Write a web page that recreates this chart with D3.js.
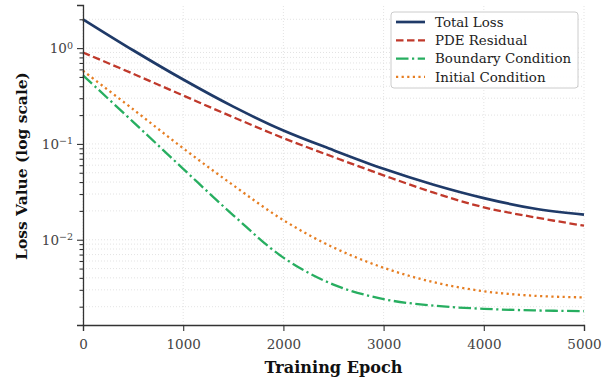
<!DOCTYPE html>
<html>
<head>
<meta charset="utf-8">
<script src="https://cdn.jsdelivr.net/npm/d3@7"></script>
<style>
  body { margin: 0; background: #fff; }
  svg { display: block; font-family: "DejaVu Serif", serif; }
</style>
</head>
<body>
<div id="chart"></div>
<script>
// values
const epochs = [0, 500, 1000, 1500, 2000, 2500, 3000, 3500, 4000, 4500, 5000];
const totalLoss = [2.0, 0.95, 0.47, 0.245, 0.138, 0.086, 0.055, 0.0375, 0.0272, 0.0212, 0.0183];
const pdeResidual = [0.9, 0.54, 0.32, 0.19, 0.115, 0.073, 0.047, 0.031, 0.0218, 0.0172, 0.014];
const boundaryCond = [0.52, 0.17, 0.055, 0.018, 0.0065, 0.0034, 0.0024, 0.00205, 0.0019, 0.00183, 0.0018];
const initialCond = [0.58, 0.23, 0.09, 0.037, 0.016, 0.0083, 0.0051, 0.0036, 0.0029, 0.0026, 0.0025];
const xTicks = [0, 1000, 2000, 3000, 4000, 5000];
const yTicks = [1, 0.1, 0.01];
const yExp = ["0", "\u22121", "\u22122"];

const series = [
  { name: 'Total Loss', values: totalLoss, color: '#1f3a68', width: 2.7, dash: null },
  { name: 'PDE Residual', values: pdeResidual, color: '#c0392b', width: 2.3, dash: '7.5,3.5' },
  { name: 'Boundary Condition', values: boundaryCond, color: '#27ae60', width: 2.3, dash: '12.5,3.5,2.2,3.5' },
  { name: 'Initial Condition', values: initialCond, color: '#e67e22', width: 2.3, dash: '2.2,3.4' }
];

let width = 602;
let height = 378;
let margin = { top: 5, right: 18, bottom: 53, left: 83 };

let svg = d3.select('#chart')
  .append('svg')
  .attr('width', width)
  .attr('height', height);

let x = d3.scaleLinear()
  .domain([0, 5000])
  .range([margin.left, width - margin.right]);

let y = d3.scaleLog()
  .domain([Math.pow(10, -2.89), Math.pow(10, 0.45)])
  .range([height - margin.bottom, margin.top]);

// minor ticks for log axis
let minor = [];
for (let e = -3; e <= 0; e++) {
  for (let k = 2; k <= 9; k++) {
    let v = k * Math.pow(10, e);
    if (v >= y.domain()[0] && v <= y.domain()[1]) minor.push(v);
  }
}

let grid = svg.append('g').attr('class', 'grid');
grid.selectAll('.gy')
  .data(yTicks.concat(minor))
  .enter()
  .append('line')
  .attr('x1', x(0)).attr('x2', x(5000))
  .attr('y1', d => y(d)).attr('y2', d => y(d))
  .attr('stroke', '#dcdcdc')
  .attr('stroke-width', 0.8)
  .attr('stroke-dasharray', '1,2');

grid.selectAll('.gx')
  .data(xTicks)
  .enter()
  .append('line')
  .attr('x1', d => x(d)).attr('x2', d => x(d))
  .attr('y1', y.range()[0]).attr('y2', y.range()[1])
  .attr('stroke', '#dcdcdc')
  .attr('stroke-width', 0.8)
  .attr('stroke-dasharray', '1,2');

// lines
let line = d3.line()
  .x((d, i) => x(epochs[i]))
  .y(d => y(d))
  .curve(d3.curveCatmullRom.alpha(0.5));

svg.selectAll('.series')
  .data(series)
  .enter()
  .append('path')
  .attr('class', 'series')
  .attr('fill', 'none')
  .attr('stroke', d => d.color)
  .attr('stroke-width', d => d.width)
  .attr('stroke-dasharray', d => d.dash)
  .attr('d', d => line(d.values));

// axes
let xAxis = svg.append('g')
  .attr('transform', 'translate(0,' + y.range()[0] + ')')
  .call(d3.axisBottom(x).tickValues(xTicks).tickSize(6).tickPadding(8).tickFormat(d3.format('d')));

let yAxis = svg.append('g')
  .attr('transform', 'translate(' + x(0) + ',0)');
yAxis.call(d3.axisLeft(y).tickValues(minor).tickSize(3.5).tickFormat(''));
yAxis.call(g => g.select('.domain').remove());
let yMajor = svg.append('g')
  .attr('transform', 'translate(' + x(0) + ',0)')
  .call(d3.axisLeft(y).tickValues(yTicks).tickSize(6).tickPadding(5).tickFormat(''));

yMajor.selectAll('.tick')
  .append('text')
  .attr('x', -10)
  .attr('dy', '0.32em')
  .attr('text-anchor', 'end')
  .each(function (d, i) {
    let t = d3.select(this);
    t.append('tspan').text('10');
    t.append('tspan').attr('dy', '-0.45em').style('font-size', '9.5px').text(yExp[i]);
  });

[xAxis, yAxis, yMajor].forEach(function (g) {
  g.attr('font-family', null);
  g.selectAll('.domain').attr('stroke', '#333').attr('stroke-width', 1.3);
  g.selectAll('.tick line').attr('stroke', '#333').attr('stroke-width', 1.1);
  g.selectAll('.tick text')
    .attr('fill', '#444')
    .style('font-family', '"DejaVu Serif", serif')
    .style('font-size', '13.5px');
});

// fit a label to the width it has in the reference
function fitText(sel, target) {
  sel.style('font-size', '100px');
  let w = sel.node().getComputedTextLength();
  sel.style('font-size', (100 * target / w) + 'px');
}

let xLabel = svg.append('text')
  .attr('x', (x.range()[0] + x.range()[1]) / 2)
  .attr('y', 373)
  .attr('text-anchor', 'middle')
  .style('font-weight', 'bold')
  .attr('fill', '#111')
  .text('Training Epoch');
fitText(xLabel, 138);

let yLabel = svg.append('text')
  .attr('transform', 'translate(27,' + ((y.range()[0] + y.range()[1]) / 2 + 1) + ') rotate(-90)')
  .attr('text-anchor', 'middle')
  .style('font-weight', 'bold')
  .attr('fill', '#111')
  .text('Loss Value (log scale)');
fitText(yLabel, 188);

// legend
let legend = svg.append('g').attr('transform', 'translate(391,12)');
legend.append('rect')
  .attr('width', 187)
  .attr('height', 76)
  .attr('rx', 3)
  .attr('fill', 'white')
  .attr('fill-opacity', 0.9)
  .attr('stroke', '#cccccc')
  .attr('stroke-width', 1);

let item = legend.selectAll('.item')
  .data(series)
  .enter()
  .append('g')
  .attr('transform', (d, i) => 'translate(0,' + (10 + i * 18.3) + ')');

item.append('line')
  .attr('x1', 5).attr('x2', 34)
  .attr('stroke', d => d.color)
  .attr('stroke-width', d => d.width)
  .attr('stroke-dasharray', d => d.dash);

item.append('text')
  .attr('x', 44)
  .attr('dy', '0.35em')
  .style('font-size', '13.4px')
  .attr('fill', '#222')
  .text(d => d.name);
</script>
</body>
</html>
